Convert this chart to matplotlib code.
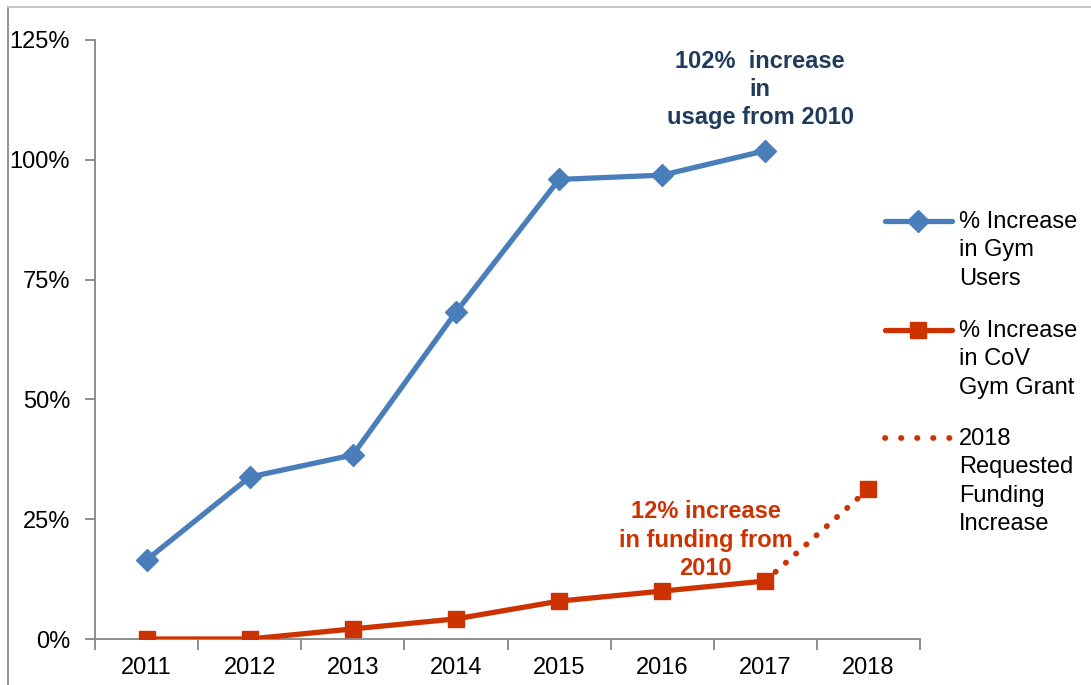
import matplotlib
matplotlib.use("Agg")
import matplotlib.pyplot as plt
from matplotlib.lines import Line2D
import numpy as np

plt.rcParams['font.family'] = ['Liberation Sans', 'DejaVu Sans']

years = ['2011', '2012', '2013', '2014', '2015', '2016', '2017', '2018']
gym_users = [16.5, 33.8, 38.4, 68.2, 95.9, 96.8, 101.9, None]
gym_grant = [0.0, 0.0, 2.1, 4.2, 7.9, 10.0, 12.1, None]
requested = [None, None, None, None, None, None, 12.1, 31.3]
y_ticks = [0, 25, 50, 75, 100, 125]
y_labels = ['0%', '25%', '50%', '75%', '100%', '125%']

BLUE = '#4A7EBB'
RED = '#CC3300'
NAVY = '#1F3B5C'
GRAY = '#868686'
FS = 17
LW = 3.8
DOTS = (0, (0.05, 2.3))

W, H = 1091, 685
fig = plt.figure(figsize=(W / 100, H / 100), dpi=100)
ax = fig.add_axes([95 / W, 1 - 639 / H, (920 - 95) / W, (639 - 40) / H])

x = np.arange(len(years))
def arr(v):
    return np.array([np.nan if a is None else a for a in v], dtype=float)

ax.plot(x, arr(gym_users), color=BLUE, lw=LW, marker='D', ms=11,
        solid_joinstyle='round', solid_capstyle='round', zorder=3)
ax.plot(x, arr(gym_grant), color=RED, lw=LW, marker='s', ms=11,
        solid_joinstyle='round', solid_capstyle='round', zorder=3)
req = arr(requested)
ax.plot(x, req, color=RED, lw=4.2, ls=DOTS, dash_capstyle='round', zorder=2)
ax.plot(x[-1:], req[-1:], color=RED, marker='s', ms=11, ls='none', zorder=3)

ax.set_xlim(-0.5, len(years) - 0.5)
ax.set_ylim(0, 125)
ax.set_yticks(y_ticks)
ax.set_yticklabels(y_labels)
ax.set_xticks(x)
ax.set_xticklabels(years)
ax.set_xticks(np.arange(-0.5, len(years), 1.0), minor=True)
ax.tick_params(axis='x', which='major', length=0, pad=13, labelsize=FS)
ax.tick_params(axis='x', which='minor', length=8, width=1.3, color=GRAY, direction='out')
ax.tick_params(axis='y', length=7, width=1.3, color=GRAY, pad=11, labelsize=FS)
for s in ['top', 'right']:
    ax.spines[s].set_visible(False)
for s in ['left', 'bottom']:
    ax.spines[s].set_color(GRAY)
    ax.spines[s].set_linewidth(1.3)

ax.text(5.95, 114.6, '102%  increase\nin\nusage from 2010', ha='center', va='center',
        color=NAVY, fontsize=FS, fontweight='bold', linespacing=1.27)
ax.text(5.42, 20.6, '12% increase\nin funding from\n2010', ha='center', va='center',
        color=RED, fontsize=FS, fontweight='bold', linespacing=1.3)

# legend drawn at the right
def fx(px):
    return px / W
def fy(py):
    return 1 - py / H

entries = [
    (221, BLUE, '-', 'D', 11, '% Increase\nin Gym\nUsers'),
    (330, RED, '-', 's', 11, '% Increase\nin CoV\nGym Grant'),
    (438, RED, ':', None, 0, '2018\nRequested\nFunding\nIncrease'),
]
for py, c, ls, m, ms, lab in entries:
    if ls == ':':
        fig.add_artist(Line2D([fx(885), fx(950)], [fy(py), fy(py)], color=c, lw=4.2,
                              ls=(0, (0.05, 2.7)), dash_capstyle='round'))
    else:
        fig.add_artist(Line2D([fx(885), fx(952)], [fy(py), fy(py)], color=c, lw=LW,
                              solid_capstyle='round'))
        fig.add_artist(Line2D([fx(918)], [fy(py)], color=c, marker=m, ms=ms, ls='none'))
    fig.text(fx(959), fy(py - 10), lab, ha='left', va='top', fontsize=FS,
             color='black', linespacing=1.38)

# figure frame
fig.add_artist(Line2D([fx(8), fx(8)], [fy(7), 0], color='#888888', lw=1.3))
fig.add_artist(Line2D([fx(8), 1], [fy(7), fy(7)], color='#C0C0C0', lw=1.3))

fig.savefig('out.png', dpi=100)
